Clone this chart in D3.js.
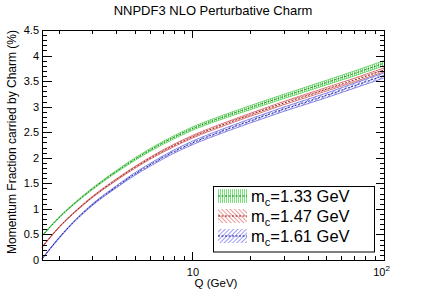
<!DOCTYPE html>
<html>
<head>
<meta charset="utf-8">
<script src="https://cdn.jsdelivr.net/npm/d3@7"></script>
<style>
  body { margin: 0; background: #fff; }
  svg { font-family: "Liberation Sans", Arial, sans-serif; display: block; }
</style>
</head>
<body>
<script>
// values (Q in GeV, momentum fraction in %)
const qValues = [1.64, 2, 2.5, 3, 4, 5, 6, 8, 10, 15, 20, 30, 50, 70, 100];
const charm133 = [0.47, 0.82, 1.15, 1.39, 1.73, 1.97, 2.15, 2.40, 2.57, 2.82, 2.98, 3.20, 3.47, 3.65, 3.85];
const charm147 = [0.25, 0.63, 0.98, 1.23, 1.57, 1.81, 1.99, 2.24, 2.41, 2.67, 2.84, 3.07, 3.34, 3.52, 3.72];
const charm161 = [0.02, 0.42, 0.81, 1.08, 1.43, 1.68, 1.86, 2.12, 2.29, 2.55, 2.72, 2.95, 3.22, 3.41, 3.61];
const err133 = [0.008, 0.01, 0.012, 0.016, 0.02, 0.025, 0.027, 0.03, 0.032, 0.036, 0.04, 0.042, 0.045, 0.048, 0.05];
const err147 = [0.008, 0.008, 0.01, 0.012, 0.016, 0.018, 0.02, 0.024, 0.026, 0.028, 0.03, 0.032, 0.035, 0.036, 0.038];
const err161 = [0.008, 0.01, 0.012, 0.016, 0.02, 0.025, 0.028, 0.032, 0.035, 0.038, 0.04, 0.042, 0.045, 0.048, 0.05];
const massLabels = ["1.33", "1.47", "1.61"];
const yTickLabels = [0, 0.5, 1, 1.5, 2, 2.5, 3, 3.5, 4, 4.5];
const xMajor = [10, 100];
const xMinor = [2, 3, 4, 5, 6, 7, 8, 9, 20, 30, 40, 50, 60, 70, 80, 90];

var width = 427, height = 290;
var svg = d3.select("body").append("svg").attr("width", width).attr("height", height);

var x = d3.scaleLog().domain([1.64, 100]).range([42, 384]);
var y = d3.scaleLinear().domain([0, 4.5]).range([260, 30]);

var styles = [
  {hatch: "#5ada5a", edge: "#3cc83c", line: "#127a12", id: "hg"},
  {hatch: "#e88080", edge: "#cc4444", line: "#901414", id: "hr"},
  {hatch: "#8484f0", edge: "#5555dd", line: "#14148f", id: "hb"}
];

// hatch patterns
var defs = svg.append("defs");
var pg = defs.append("pattern").attr("id", "hg").attr("patternUnits", "userSpaceOnUse")
  .attr("width", 2).attr("height", 4);
pg.append("line").attr("x1", 0.5).attr("y1", 0).attr("x2", 0.5).attr("y2", 4)
  .attr("stroke", styles[0].hatch).attr("stroke-width", 0.8);
var pr = defs.append("pattern").attr("id", "hr").attr("patternUnits", "userSpaceOnUse")
  .attr("width", 3).attr("height", 3).attr("patternTransform", "rotate(-45)");
pr.append("line").attr("x1", 0.5).attr("y1", 0).attr("x2", 0.5).attr("y2", 3)
  .attr("stroke", styles[1].hatch).attr("stroke-width", 0.8);
var pb = defs.append("pattern").attr("id", "hb").attr("patternUnits", "userSpaceOnUse")
  .attr("width", 3).attr("height", 3).attr("patternTransform", "rotate(45)");
pb.append("line").attr("x1", 0.5).attr("y1", 0).attr("x2", 0.5).attr("y2", 3)
  .attr("stroke", styles[2].hatch).attr("stroke-width", 0.8);

var series = [charm133, charm147, charm161];
var errs = [err133, err147, err161];

var plot = svg.append("g");
series.forEach(function(vals, k) {
  var pts = qValues.map(function(q, i) { return {q: q, v: vals[i], e: errs[k][i]}; });
  var area = d3.area().curve(d3.curveMonotoneX)
    .x(function(d) { return x(d.q); })
    .y0(function(d) { return y(d.v - d.e); })
    .y1(function(d) { return y(d.v + d.e); });
  var upper = d3.line().curve(d3.curveMonotoneX)
    .x(function(d) { return x(d.q); }).y(function(d) { return y(d.v + d.e); });
  var lower = d3.line().curve(d3.curveMonotoneX)
    .x(function(d) { return x(d.q); }).y(function(d) { return y(d.v - d.e); });
  var mid = d3.line().curve(d3.curveMonotoneX)
    .x(function(d) { return x(d.q); }).y(function(d) { return y(d.v); });
  plot.append("path").attr("d", area(pts)).attr("fill", "url(#" + styles[k].id + ")");
  plot.append("path").attr("d", upper(pts)).attr("fill", "none")
    .attr("stroke", styles[k].edge).attr("stroke-width", 0.7);
  plot.append("path").attr("d", lower(pts)).attr("fill", "none")
    .attr("stroke", styles[k].edge).attr("stroke-width", 0.7);
  plot.append("path").attr("d", mid(pts)).attr("fill", "none")
    .attr("stroke", styles[k].line).attr("stroke-width", 0.9).attr("stroke-dasharray", "2,1.5");
});

// frame + ticks on all sides
function styleAxis(g) {
  g.select(".domain").remove();
  g.selectAll("line").attr("stroke", "#000").attr("shape-rendering", "crispEdges");
  g.selectAll("text").attr("font-size", "11px").attr("fill", "#000")
    .attr("font-family", "Liberation Sans, Arial, sans-serif");
}
var yMinor = d3.range(0, 4.501, 0.1);
svg.append("g").attr("transform", "translate(42,0)")
  .call(d3.axisLeft(y).tickValues(yMinor).tickSizeInner(-5).tickSizeOuter(0).tickFormat(""))
  .call(styleAxis);
svg.append("g").attr("transform", "translate(42,0)")
  .call(d3.axisLeft(y).tickValues(yTickLabels).tickSizeInner(-10).tickSizeOuter(0).tickPadding(3)
    .tickFormat(function(d) { return d; }))
  .call(styleAxis);
svg.append("g").attr("transform", "translate(384,0)")
  .call(d3.axisRight(y).tickValues(yMinor).tickSizeInner(-4).tickSizeOuter(0).tickFormat(""))
  .call(styleAxis);
svg.append("g").attr("transform", "translate(384,0)")
  .call(d3.axisRight(y).tickValues(yTickLabels).tickSizeInner(-8).tickSizeOuter(0).tickFormat(""))
  .call(styleAxis);

svg.append("g").attr("transform", "translate(0,260)")
  .call(d3.axisBottom(x).tickValues(xMinor).tickSizeInner(-4).tickSizeOuter(0).tickFormat(""))
  .call(styleAxis);
var xb = svg.append("g").attr("transform", "translate(0,260)")
  .call(d3.axisBottom(x).tickValues(xMajor).tickSizeInner(-8).tickSizeOuter(0).tickPadding(8)
    .tickFormat(function(d) { return "10"; }))
  .call(styleAxis);
xb.selectAll(".tick").filter(function(d) { return d === 100; }).select("text")
  .attr("dx", "-3")
  .append("tspan").attr("dy", "-5").attr("font-size", "8px").text("2");
svg.append("g").attr("transform", "translate(0,30)")
  .call(d3.axisTop(x).tickValues(xMinor).tickSizeInner(-4).tickSizeOuter(0).tickFormat(""))
  .call(styleAxis);
svg.append("g").attr("transform", "translate(0,30)")
  .call(d3.axisTop(x).tickValues(xMajor).tickSizeInner(-8).tickSizeOuter(0).tickFormat(""))
  .call(styleAxis);

svg.append("rect").attr("x", 42).attr("y", 30).attr("width", 342).attr("height", 230)
  .attr("fill", "none").attr("stroke", "#000").attr("stroke-width", 1).attr("shape-rendering", "crispEdges");

// titles
svg.append("text").attr("x", 213).attr("y", 14.5).attr("text-anchor", "middle")
  .attr("font-size", "13px").text("NNPDF3 NLO Perturbative Charm");
svg.append("text").attr("x", 216).attr("y", 287).attr("text-anchor", "middle")
  .attr("font-size", "11.5px").text("Q (GeV)");
svg.append("text").attr("transform", "translate(16,142) rotate(-90)").attr("text-anchor", "middle")
  .attr("font-size", "12px").text("Momentum Fraction carried by Charm (%)");

// legend
var leg = svg.append("g");
leg.append("rect").attr("x", 213.5).attr("y", 186.5).attr("width", 161).attr("height", 65.5)
  .attr("fill", "#fff").attr("stroke", "#000").attr("stroke-width", 1);
var rows = leg.selectAll(".legends").data(massLabels).enter().append("g").classed("legends", true)
  .attr("transform", function(d, i) { return "translate(0," + (201.5 + i * 20) + ")"; });
rows.append("rect").attr("x", 218).attr("y", -12.5).attr("width", 29).attr("height", 14)
  .attr("fill", function(d, i) { return "url(#" + styles[i].id + ")"; });
rows.append("line").attr("x1", 218).attr("x2", 247).attr("y1", -5.5).attr("y2", -5.5)
  .attr("stroke", function(d, i) { return styles[i].line; }).attr("stroke-width", 1)
  .attr("stroke-dasharray", "2,1.5");
var lt = rows.append("text").attr("x", 251).attr("y", 0).attr("font-size", "16.5px");
lt.append("tspan").text("m");
lt.append("tspan").attr("font-size", "11px").attr("dy", 4).text("c");
lt.append("tspan").attr("dy", -4).text(function(d) { return "=" + d + " GeV"; });
</script>
</body>
</html>
